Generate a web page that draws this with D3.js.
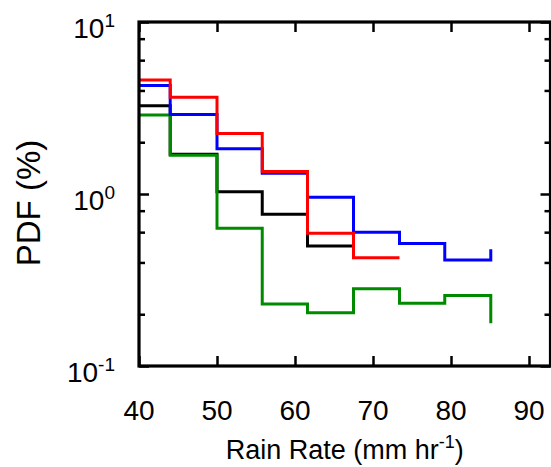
<!DOCTYPE html>
<html>
<head>
<meta charset="utf-8">
<script src="https://cdn.jsdelivr.net/npm/d3@7"></script>
<style>
  body { margin: 0; background: #fff; }
  text { font-family: "Liberation Sans", Arial, Helvetica, sans-serif; fill: #000; }
</style>
</head>
<body>
<script>
// bin edges (mm/hr) shared by every curve
const binEdges = [40, 44, 50, 55.8, 61.6, 67.5, 73.4, 79.2, 85.1];

// PDF (%) per bin, the last entry is where the final vertical ends
const blackPdf = [3.26, 1.70, 1.03, 0.762, 0.499, 0.499];
const greenPdf = [2.88, 1.68, 0.633, 0.229, 0.204, 0.281, 0.232, 0.257, 0.177];
const bluePdf  = [4.27, 2.90, 1.83, 1.32, 0.957, 0.600, 0.516, 0.413, 0.477];
const redPdf   = [4.60, 3.65, 2.25, 1.35, 0.591, 0.426, 0.426];

const xTicks = [40, 50, 60, 70, 80, 90];
const yMajor = [0.1, 1, 10];
const yMajorExp = ["-1", "0", "1"];
const yMinor = [0.2, 0.4, 0.6, 0.8, 2, 4, 6, 8];

const width = 551, height = 467;
const pad = {left: 139, right: 550.5, top: 22, bottom: 366};

const svg = d3.select("body").append("svg")
    .attr("width", width).attr("height", height);

// x: 40 -> 139px, 90 -> 529px
const pxPerUnit = (529 - 139) / 50;
const x = d3.scaleLinear()
    .domain([40, 40 + (pad.right - pad.left) / pxPerUnit])
    .range([pad.left, pad.right]);
const y = d3.scaleLog().domain([0.1, 10]).range([pad.bottom, pad.top]);

// curves, drawn in this order (red ends up on top)
const series = [
    {vals: blackPdf, color: "#000000"},
    {vals: greenPdf, color: "#008a00"},
    {vals: bluePdf,  color: "#0000ff"},
    {vals: redPdf,   color: "#ff0000"}
];

const line = d3.line()
    .x(d => x(d[0]))
    .y(d => y(d[1]))
    .curve(d3.curveStepAfter);

svg.append("defs").append("clipPath").attr("id", "plotclip")
    .append("rect").attr("x", pad.left).attr("y", pad.top)
    .attr("width", pad.right - pad.left).attr("height", pad.bottom - pad.top);

const gLines = svg.append("g").attr("clip-path", "url(#plotclip)");
series.forEach(s => {
    const n = s.vals.length;
    // bins, then one closing point on the last edge
    let pts = s.vals.slice(0, -1).map((v, i) => [binEdges[i], v]);
    pts.push([binEdges[n - 1], s.vals[n - 1]]);
    gLines.append("path")
        .attr("d", line(pts))
        .attr("fill", "none")
        .attr("stroke", s.color)
        .attr("stroke-width", 3)
        .attr("stroke-linejoin", "miter");
});

// axes, ticks pointing inward
function styleAxis(g) {
    g.select(".domain").remove();
    g.selectAll("line").attr("stroke", "#000").attr("stroke-width", 2.5);
    g.selectAll("text").remove();
}
svg.append("g").attr("transform", `translate(0,${pad.bottom})`)
    .call(d3.axisTop(x).tickValues(xTicks).tickSize(10)).call(styleAxis);
svg.append("g").attr("transform", `translate(0,${pad.top})`)
    .call(d3.axisBottom(x).tickValues(xTicks).tickSize(10)).call(styleAxis);
svg.append("g").attr("transform", `translate(${pad.left},0)`)
    .call(d3.axisRight(y).tickValues(yMajor).tickSize(10)).call(styleAxis);
svg.append("g").attr("transform", `translate(${pad.left},0)`)
    .call(d3.axisRight(y).tickValues(yMinor).tickSize(6)).call(styleAxis);
svg.append("g").attr("transform", `translate(${pad.right},0)`)
    .call(d3.axisLeft(y).tickValues(yMajor).tickSize(10)).call(styleAxis);
svg.append("g").attr("transform", `translate(${pad.right},0)`)
    .call(d3.axisLeft(y).tickValues(yMinor).tickSize(6)).call(styleAxis);

// frame
svg.append("rect")
    .attr("x", pad.left).attr("y", pad.top)
    .attr("width", pad.right - pad.left).attr("height", pad.bottom - pad.top)
    .attr("fill", "none").attr("stroke", "#000").attr("stroke-width", 3.2);

// tick labels
svg.selectAll(".xlab").data(xTicks).enter().append("text")
    .attr("class", "xlab")
    .attr("x", d => x(d)).attr("y", 420)
    .attr("text-anchor", "middle")
    .style("font-size", "28px")
    .text(d => d);

const ylab = svg.selectAll(".ylab").data(yMajor).enter().append("text")
    .attr("class", "ylab")
    .attr("x", 115).attr("y", d => y(d) + 16)
    .attr("text-anchor", "end")
    .style("font-size", "28px");
ylab.append("tspan").text("10");
ylab.append("tspan").attr("dy", -11).style("font-size", "19px")
    .text((d, i) => yMajorExp[i]);

// axis titles
const xt = svg.append("text")
    .attr("x", (pad.left + pad.right) / 2).attr("y", 459)
    .attr("text-anchor", "middle")
    .style("font-size", "27px");
xt.append("tspan").text("Rain Rate (mm hr");
xt.append("tspan").attr("dy", -11).style("font-size", "18px").text("-1");
xt.append("tspan").attr("dy", 11).text(")");

svg.append("text")
    .attr("transform", "translate(40,203) rotate(-90)")
    .attr("text-anchor", "middle")
    .style("font-size", "33px")
    .text("PDF (%)");
</script>
</body>
</html>
